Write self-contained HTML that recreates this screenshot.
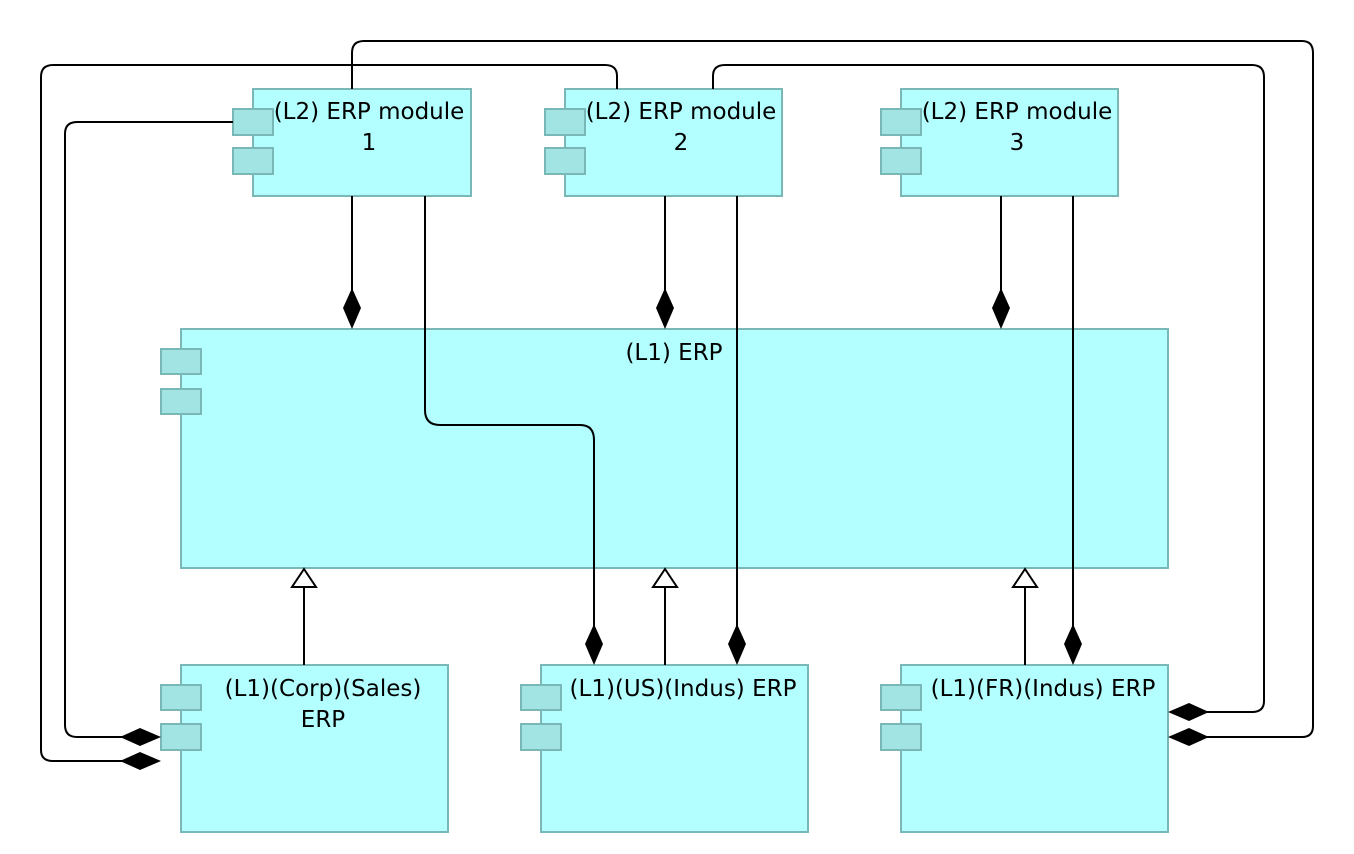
<!DOCTYPE html>
<html><head><meta charset="utf-8"><style>
html,body{margin:0;padding:0;background:#fff;}
svg{display:block;}
</style></head><body>
<svg width="1354" height="854" viewBox="0 0 1354 854" xmlns="http://www.w3.org/2000/svg">
<g fill="#b3ffff" stroke="#7ab8b8" stroke-width="2">
<rect x="253" y="89" width="218" height="107"/>
<rect x="565" y="89" width="217" height="107"/>
<rect x="901" y="89" width="217" height="107"/>
<rect x="181" y="329" width="987" height="239"/>
<rect x="181" y="665" width="267" height="167"/>
<rect x="541" y="665" width="267" height="167"/>
<rect x="901" y="665" width="267" height="167"/>
</g>
<g fill="#a2e4e4" stroke="#7ab8b8" stroke-width="2">
<rect x="233" y="109" width="40" height="26"/><rect x="233" y="148" width="40" height="26"/>
<rect x="545" y="109" width="40" height="26"/><rect x="545" y="148" width="40" height="26"/>
<rect x="881" y="109" width="40" height="26"/><rect x="881" y="148" width="40" height="26"/>
<rect x="161" y="349" width="40" height="25"/><rect x="161" y="389" width="40" height="25"/>
<rect x="161" y="685" width="40" height="25"/><rect x="161" y="724" width="40" height="26"/>
<rect x="521" y="685" width="40" height="25"/><rect x="521" y="724" width="40" height="26"/>
<rect x="881" y="685" width="40" height="25"/><rect x="881" y="724" width="40" height="26"/>
</g>
<g fill="none" stroke="#000" stroke-width="2">
<path d="M352 196V290"/>
<path d="M425 196V410Q425 425 440 425H580Q594 425 594 440V628"/>
<path d="M665 196V290"/>
<path d="M737 196V628"/>
<path d="M1001 196V290"/>
<path d="M1073 196V628"/>
<path d="M304 587V665M665 587V665M1025 587V665"/>
<path d="M233 122H77Q65 122 65 134V725Q65 737 77 737H122"/>
<path d="M617 89V76Q617 65 605 65H53Q41 65 41 77V750Q41 761 53 761H122"/>
<path d="M352 89V53Q352 41 364 41H1302Q1313 41 1313 53V726Q1313 737 1302 737H1207"/>
<path d="M713 89V76Q713 65 725 65H1252Q1264 65 1264 77V701Q1264 712 1252 712H1207"/>
</g>
<g fill="#000">
<path d="M352 288L361 308L352 329L343 308Z"/>
<path d="M665 288L674 308L665 329L656 308Z"/>
<path d="M1001 288L1010 308L1001 329L992 308Z"/>
<path d="M594 624L603 644L594 665L585 644Z"/>
<path d="M737 624L746 644L737 665L728 644Z"/>
<path d="M1073 624L1082 644L1073 665L1064 644Z"/>
<path d="M120 737L140 728L161 737L140 746Z"/>
<path d="M120 761L140 752L161 761L140 770Z"/>
<path d="M1168 712L1189 703L1209 712L1189 721Z"/>
<path d="M1168 737L1189 728L1209 737L1189 746Z"/>
</g>
<g fill="#fff" stroke="#000" stroke-width="2">
<path d="M304 569L316 587H292Z"/>
<path d="M665 569L677 587H653Z"/>
<path d="M1025 569L1037 587H1013Z"/>
</g>
<g text-anchor="middle" font-family="DejaVu Sans, Liberation Sans, sans-serif" font-size="23" fill="#000">
<text x="369" y="119">(L2) ERP module</text><text x="369" y="150">1</text>
<text x="681" y="119">(L2) ERP module</text><text x="681" y="150">2</text>
<text x="1017" y="119">(L2) ERP module</text><text x="1017" y="150">3</text>
<text x="674" y="360">(L1) ERP</text>
<text x="323" y="696">(L1)(Corp)(Sales)</text><text x="323" y="727">ERP</text>
<text x="683" y="696">(L1)(US)(Indus) ERP</text>
<text x="1043" y="696">(L1)(FR)(Indus) ERP</text>
</g>
</svg>
</body></html>
